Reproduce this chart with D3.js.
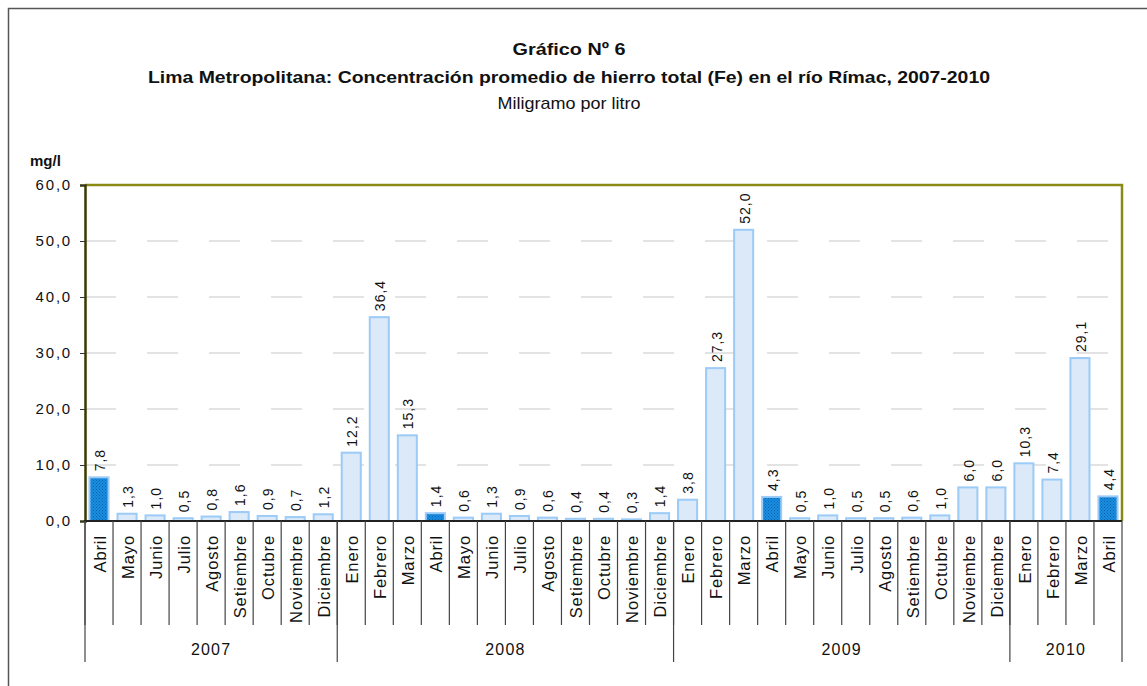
<!DOCTYPE html>
<html>
<head>
<meta charset="utf-8">
<script src="https://cdn.jsdelivr.net/npm/d3@7"></script>
<style>
  body { margin: 0; background: #fff; }
  svg { display: block; }
  text { font-family: "Liberation Sans", Arial, sans-serif; fill: #111; }
</style>
</head>
<body>
<script>
// Data
const yearLabels = ["2007", "2008", "2009", "2010"];
const months2007 = ["Abril", "Mayo", "Junio", "Julio", "Agosto", "Setiembre", "Octubre", "Noviembre", "Diciembre"];
const months2008 = ["Enero", "Febrero", "Marzo", "Abril", "Mayo", "Junio", "Julio", "Agosto", "Setiembre", "Octubre", "Noviembre", "Diciembre"];
const months2009 = ["Enero", "Febrero", "Marzo", "Abril", "Mayo", "Junio", "Julio", "Agosto", "Setiembre", "Octubre", "Noviembre", "Diciembre"];
const months2010 = ["Enero", "Febrero", "Marzo", "Abril"];
const values2007 = [7.8, 1.3, 1.0, 0.5, 0.8, 1.6, 0.9, 0.7, 1.2];
const values2008 = [12.2, 36.4, 15.3, 1.4, 0.6, 1.3, 0.9, 0.6, 0.4, 0.4, 0.3, 1.4];
const values2009 = [3.8, 27.3, 52.0, 4.3, 0.5, 1.0, 0.5, 0.5, 0.6, 1.0, 6.0, 6.0];
const values2010 = [10.3, 7.4, 29.1, 4.4];
const yTicks = [0, 10, 20, 30, 40, 50, 60];

const monthsByYear = [months2007, months2008, months2009, months2010];
const valuesByYear = [values2007, values2008, values2009, values2010];

// flatten into one row per bar
const rows = [];
yearLabels.forEach((y, i) => {
  monthsByYear[i].forEach((m, j) => {
    rows.push({ year: y, month: m, value: valuesByYear[i][j], key: y + "-" + m });
  });
});

const W = 1147, H = 686;
const plot = { left: 85, right: 1122, top: 185, bottom: 521 };

const svg = d3.select("body").append("svg").attr("width", W).attr("height", H);

// pattern for the highlighted (Abril) bars
const defs = svg.append("defs");
const pat = defs.append("pattern")
  .attr("id", "dots")
  .attr("width", 3).attr("height", 3)
  .attr("patternUnits", "userSpaceOnUse");
pat.append("rect").attr("width", 3).attr("height", 3).attr("fill", "#1a8ee0");
pat.append("rect").attr("width", 1).attr("height", 1).attr("fill", "#0762b0");
pat.append("rect").attr("x", 1.5).attr("y", 1.5).attr("width", 1).attr("height", 1).attr("fill", "#0762b0");

// outer frame
svg.append("rect")
  .attr("x", 8.5).attr("y", 8.5)
  .attr("width", W + 20).attr("height", H + 20)
  .attr("fill", "none").attr("stroke", "#555").attr("stroke-width", 1.5);

// titles (stretched to the width they take in the original)
function title(txt, y, size, bold, len) {
  svg.append("text")
    .attr("x", 569).attr("y", y).attr("text-anchor", "middle")
    .attr("textLength", len).attr("lengthAdjust", "spacingAndGlyphs")
    .style("font-size", size + "px")
    .style("font-weight", bold ? "bold" : "normal")
    .text(txt);
}
title("Gráfico Nº 6", 55, 17, true, 113);
title("Lima Metropolitana: Concentración promedio de hierro total (Fe) en el río Rímac, 2007-2010", 83, 17, true, 842);
title("Miligramo por litro", 109, 17, false, 143);

svg.append("text")
  .attr("x", 30).attr("y", 166)
  .style("font-size", "15px").style("font-weight", "bold")
  .text("mg/l");

// scales
const xScale = d3.scaleBand()
  .domain(rows.map((d) => d.key))
  .range([plot.left, plot.right])
  .paddingInner(0.32)
  .paddingOuter(0.16);

const yScale = d3.scaleLinear().domain([0, 60]).range([plot.bottom, plot.top]);

const step = xScale.step();
const slotLeft = (key) => xScale(key) - (step - xScale.bandwidth()) / 2;

// grid lines (dashed)
svg.append("g")
  .selectAll("line")
  .data(yTicks.filter((t) => t > 0 && t < 60))
  .enter()
  .append("line")
  .attr("x1", plot.left).attr("x2", plot.right)
  .attr("y1", (d) => yScale(d)).attr("y2", (d) => yScale(d))
  .attr("stroke", "#c8c8c8").attr("stroke-width", 1.2)
  .attr("stroke-dasharray", "31,31");

// bars
svg.append("g")
  .selectAll("rect")
  .data(rows)
  .enter()
  .append("rect")
  .attr("x", (d) => xScale(d.key))
  .attr("y", (d) => yScale(d.value))
  .attr("width", xScale.bandwidth())
  .attr("height", (d) => yScale(0) - yScale(d.value))
  .attr("fill", (d) => (d.month === "Abril" ? "url(#dots)" : "#dbe9f8"))
  .attr("stroke", "#9ccbf7")
  .attr("stroke-width", 2);

// value labels
svg.append("g")
  .selectAll("text")
  .data(rows)
  .enter()
  .append("text")
  .attr("transform", (d) => `translate(${xScale(d.key) + xScale.bandwidth() / 2 + 1},${yScale(d.value) - 6}) rotate(-90)`)
  .attr("dy", "0.35em")
  .style("font-size", "14px").style("letter-spacing", "1px")
  .text((d) => d3.format(".1f")(d.value).replace(".", ","));

// plot border: top and right in olive
svg.append("path")
  .attr("d", `M${plot.left},${plot.top}H${plot.right}V${plot.bottom}`)
  .attr("fill", "none").attr("stroke", "#8a8a14").attr("stroke-width", 2.5);

// y axis
const yAxis = d3.axisLeft(yScale)
  .tickValues(yTicks)
  .tickSize(5)
  .tickFormat((d) => d3.format(".1f")(d).replace(".", ","));
const yg = svg.append("g").attr("transform", `translate(${plot.left},0)`).call(yAxis);
yg.select(".domain").attr("stroke", "#3a3a00").attr("stroke-width", 2.5);
yg.selectAll(".tick line").attr("stroke", "#333");
yg.selectAll(".tick text")
  .attr("x", -13)
  .style("font-family", '"Liberation Sans", Arial, sans-serif')
  .style("font-size", "15px").style("letter-spacing", "1.8px").attr("fill", "#111");

// bottom axis line
svg.append("line")
  .attr("x1", plot.left - 1).attr("x2", plot.right)
  .attr("y1", plot.bottom).attr("y2", plot.bottom)
  .attr("stroke", "#222").attr("stroke-width", 2);

// category separators
svg.append("g")
  .selectAll("line")
  .data(rows)
  .enter()
  .append("line")
  .attr("x1", (d) => slotLeft(d.key)).attr("x2", (d) => slotLeft(d.key))
  .attr("y1", plot.bottom).attr("y2", 625)
  .attr("stroke", "#444").attr("stroke-width", 1.2);

// month labels
svg.append("g")
  .selectAll("text")
  .data(rows)
  .enter()
  .append("text")
  .attr("transform", (d) => `translate(${xScale(d.key) + xScale.bandwidth() / 2 + 1},535) rotate(-90)`)
  .attr("dy", "0.35em")
  .attr("text-anchor", "end")
  .style("font-size", "16.5px").style("letter-spacing", "0.9px")
  .text((d) => d.month);

// year groups
const groups = yearLabels.map((y, i) => {
  const first = rows.find((d) => d.year === y);
  const n = monthsByYear[i].length;
  const x0 = slotLeft(first.key);
  return { year: y, x0: x0, x1: x0 + n * step };
});
const yearBounds = [groups[0].x0].concat(groups.map((g) => g.x1));

svg.append("g")
  .selectAll("line")
  .data(yearBounds)
  .enter()
  .append("line")
  .attr("x1", (d) => d).attr("x2", (d) => d)
  .attr("y1", plot.bottom).attr("y2", 662)
  .attr("stroke", "#444").attr("stroke-width", 1.2);

svg.append("g")
  .selectAll("text")
  .data(groups)
  .enter()
  .append("text")
  .attr("x", (d) => (d.x0 + d.x1) / 2)
  .attr("y", 655)
  .attr("text-anchor", "middle")
  .style("font-size", "16px").style("letter-spacing", "1.2px")
  .text((d) => d.year);
</script>
</body>
</html>
